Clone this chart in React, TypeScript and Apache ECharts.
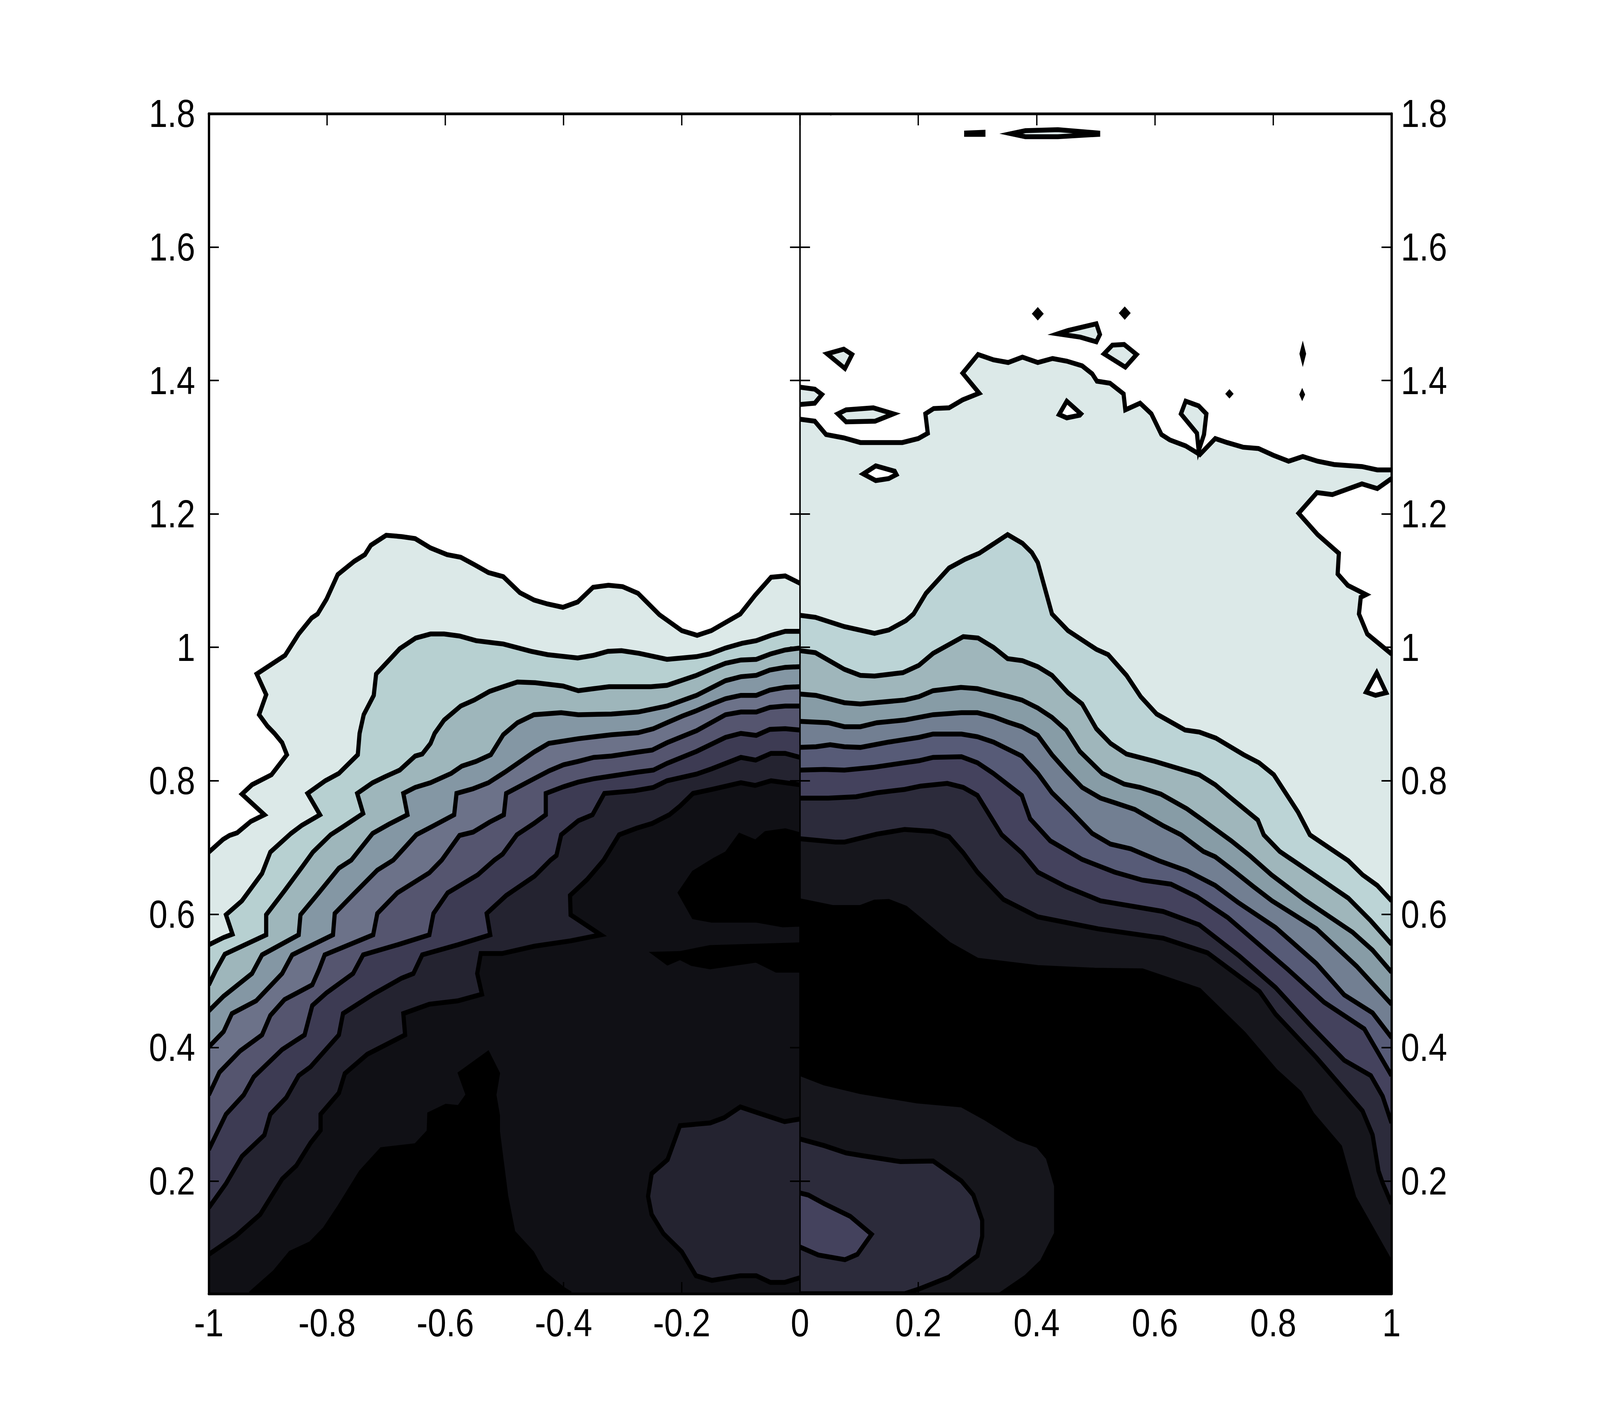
import React, { useEffect, useRef } from "react";
import * as echarts from "echarts";

type P = number[][];

const yMin = 0.031;
const yMax = 1.8;
const yTicks = [0.2, 0.4, 0.6, 0.8, 1, 1.2, 1.4, 1.6, 1.8];
const xTicksLeft = [-1, -0.8, -0.6, -0.4, -0.2, 0];
const xTicksRight = [0, 0.2, 0.4, 0.6, 0.8, 1];
const xLabelsRight = [0.2, 0.4, 0.6, 0.8, 1];

// ---------- left panel contours (x, y) ----------
const leftLevel1: P = [[-1,.693],[-.976,.712],[-.965,.718],[-.952,.722],[-.929,.739],[-.906,.749],[-.944,.780],[-.927,.794],[-.894,.809],[-.868,.839],[-.876,.857],[-.889,.871],[-.901,.882],[-.915,.899],[-.903,.929],[-.919,.960],[-.871,.988],[-.848,1.020],[-.826,1.044],[-.816,1.050],[-.801,1.072],[-.782,1.109],[-.754,1.129],[-.736,1.139],[-.726,1.153],[-.700,1.168],[-.674,1.166],[-.651,1.163],[-.625,1.149],[-.597,1.139],[-.574,1.135],[-.551,1.124],[-.527,1.112],[-.502,1.106],[-.474,1.082],[-.450,1.071],[-.427,1.065],[-.401,1.060],[-.376,1.068],[-.350,1.090],[-.324,1.093],[-.300,1.091],[-.274,1.081],[-.238,1.049],[-.200,1.025],[-.174,1.018],[-.150,1.025],[-.101,1.050],[-.076,1.078],[-.049,1.105],[-.025,1.107],[0,1.096]];
const leftLevel2: P = [[-1,.554],[-.975,.565],[-.960,.570],[-.971,.599],[-.944,.620],[-.910,.661],[-.896,.693],[-.861,.721],[-.843,.733],[-.812,.749],[-.833,.781],[-.803,.800],[-.780,.811],[-.748,.839],[-.745,.871],[-.738,.899],[-.721,.928],[-.717,.960],[-.677,.998],[-.650,1.014],[-.625,1.020],[-.602,1.020],[-.576,1.017],[-.548,1.010],[-.502,1.005],[-.455,.994],[-.427,.989],[-.376,.984],[-.349,.988],[-.325,.994],[-.302,.995],[-.272,.991],[-.225,.982],[-.175,.986],[-.153,.990],[-.126,.999],[-.098,1.006],[-.074,1.010],[-.049,1.018],[-.025,1.024],[0,1.024]];
const leftLevel3: P = [[-1,.494],[-.988,.516],[-.973,.540],[-.903,.569],[-.903,.599],[-.872,.635],[-.842,.671],[-.824,.693],[-.794,.719],[-.773,.731],[-.739,.751],[-.749,.781],[-.723,.797],[-.702,.806],[-.677,.816],[-.651,.837],[-.639,.840],[-.625,.856],[-.618,.871],[-.602,.891],[-.574,.912],[-.551,.921],[-.525,.934],[-.502,.941],[-.478,.948],[-.448,.947],[-.401,.942],[-.375,.935],[-.349,.938],[-.323,.941],[-.252,.941],[-.225,.943],[-.175,.958],[-.149,.968],[-.126,.976],[-.100,.981],[-.074,.982],[-.050,.990],[-.025,.996],[0,.999]];
const leftLevel4: P = [[-1,.455],[-.975,.477],[-.927,.511],[-.910,.539],[-.848,.569],[-.845,.599],[-.814,.632],[-.780,.669],[-.759,.681],[-.723,.721],[-.695,.735],[-.664,.749],[-.671,.781],[-.651,.790],[-.625,.797],[-.590,.811],[-.572,.822],[-.548,.829],[-.523,.839],[-.502,.869],[-.478,.887],[-.450,.899],[-.404,.902],[-.375,.899],[-.319,.900],[-.274,.903],[-.225,.912],[-.175,.928],[-.126,.950],[-.100,.956],[-.074,.958],[-.051,.966],[-.025,.970],[0,.971]];
const leftLevel5: P = [[-1,.401],[-.975,.424],[-.961,.451],[-.920,.470],[-.876,.511],[-.859,.539],[-.790,.569],[-.787,.601],[-.753,.632],[-.715,.666],[-.688,.681],[-.649,.719],[-.621,.732],[-.585,.749],[-.581,.781],[-.553,.788],[-.527,.797],[-.499,.813],[-.450,.843],[-.425,.856],[-.375,.863],[-.319,.869],[-.274,.872],[-.248,.878],[-.225,.887],[-.199,.897],[-.175,.905],[-.149,.915],[-.126,.923],[-.100,.928],[-.074,.928],[-.051,.936],[-.025,.940],[0,.941]];
const leftLevel6: P = [[-1,.329],[-.982,.363],[-.947,.395],[-.910,.419],[-.896,.448],[-.872,.472],[-.825,.494],[-.814,.516],[-.804,.539],[-.722,.569],[-.715,.601],[-.681,.632],[-.627,.662],[-.606,.681],[-.576,.718],[-.553,.723],[-.525,.738],[-.501,.749],[-.497,.781],[-.450,.803],[-.424,.815],[-.400,.824],[-.375,.829],[-.349,.835],[-.319,.837],[-.274,.843],[-.250,.846],[-.225,.857],[-.175,.875],[-.126,.899],[-.100,.903],[-.074,.903],[-.051,.910],[-.025,.912],[0,.912]];
const leftLevel7: P = [[-1,.247],[-.971,.300],[-.941,.329],[-.924,.356],[-.876,.397],[-.838,.419],[-.825,.463],[-.801,.482],[-.756,.511],[-.739,.539],[-.681,.554],[-.627,.569],[-.620,.601],[-.596,.632],[-.545,.659],[-.517,.681],[-.503,.690],[-.479,.719],[-.450,.736],[-.430,.749],[-.430,.781],[-.400,.791],[-.375,.798],[-.349,.803],[-.319,.807],[-.274,.813],[-.248,.816],[-.225,.826],[-.175,.844],[-.126,.865],[-.100,.871],[-.074,.868],[-.051,.877],[-.025,.878],[0,.876]];
const leftLevel8: P = [[-1,.160],[-.971,.196],[-.944,.237],[-.906,.269],[-.896,.300],[-.869,.325],[-.848,.358],[-.828,.371],[-.780,.419],[-.773,.451],[-.722,.480],[-.674,.504],[-.654,.511],[-.639,.539],[-.579,.554],[-.524,.569],[-.530,.601],[-.497,.628],[-.449,.657],[-.422,.681],[-.412,.688],[-.404,.719],[-.375,.740],[-.351,.749],[-.331,.781],[-.280,.785],[-.248,.790],[-.225,.800],[-.175,.810],[-.149,.818],[-.100,.835],[-.075,.831],[-.049,.841],[-.025,.841],[0,.835]];
const leftLevel9: P = [[-1,.090],[-.954,.118],[-.913,.150],[-.876,.203],[-.852,.223],[-.828,.257],[-.811,.276],[-.811,.300],[-.780,.332],[-.770,.361],[-.732,.390],[-.668,.419],[-.671,.451],[-.627,.465],[-.579,.470],[-.538,.480],[-.546,.511],[-.540,.541],[-.504,.541],[-.449,.552],[-.388,.560],[-.337,.569],[-.388,.599],[-.389,.628],[-.360,.652],[-.332,.681],[-.306,.719],[-.276,.729],[-.250,.736],[-.221,.749],[-.203,.762],[-.181,.781],[-.149,.787],[-.100,.797],[-.076,.793],[-.049,.800],[0,.794]];
const leftBlackMountain: P = [[-.930,.031],[-.889,.063],[-.862,.092],[-.828,.106],[-.804,.128],[-.780,.160],[-.743,.213],[-.708,.247],[-.650,.253],[-.628,.274],[-.627,.300],[-.599,.312],[-.577,.310],[-.562,.329],[-.575,.361],[-.528,.391],[-.511,.361],[-.517,.329],[-.511,.298],[-.511,.274],[-.497,.177],[-.485,.123],[-.453,.092],[-.435,.063],[-.401,.038],[-.388,.031]];
const leftBlackCore: P = [[0,.719],[-.025,.725],[-.058,.721],[-.075,.708],[-.102,.718],[-.124,.691],[-.145,.681],[-.180,.662],[-.203,.632],[-.180,.596],[-.149,.591],[-.074,.591],[-.029,.584],[0,.585]];
const leftBlackBand: P = [[-.244,.540],[-.203,.541],[-.152,.550],[-.074,.552],[0,.554],[0,.516],[-.040,.516],[-.074,.531],[-.152,.521],[-.183,.526],[-.203,.535],[-.224,.527]];
const leftIsland: P = [[0,.293],[-.026,.289],[-.074,.303],[-.101,.311],[-.128,.295],[-.152,.287],[-.203,.283],[-.224,.232],[-.251,.211],[-.257,.177],[-.251,.150],[-.231,.121],[-.200,.094],[-.176,.058],[-.149,.051],[-.101,.058],[-.074,.058],[-.050,.048],[-.026,.048],[0,.055]];

// ---------- right panel contours (x, y) ----------
const rightLevel1: P = [[0,1.342],[.025,1.339],[.044,1.319],[.074,1.314],[.102,1.307],[.173,1.307],[.200,1.313],[.216,1.321],[.212,1.350],[.226,1.358],[.252,1.359],[.275,1.371],[.303,1.381],[.275,1.411],[.301,1.439],[.327,1.431],[.352,1.427],[.376,1.435],[.402,1.427],[.427,1.433],[.451,1.429],[.477,1.422],[.494,1.410],[.502,1.399],[.524,1.396],[.547,1.380],[.550,1.356],[.575,1.366],[.594,1.350],[.611,1.319],[.625,1.311],[.652,1.302],[.676,1.289],[.702,1.313],[.722,1.307],[.749,1.300],[.775,1.298],[.800,1.288],[.826,1.279],[.850,1.286],[.875,1.279],[.903,1.274],[.950,1.271],[.976,1.266],[1,1.266]];
const rightWhitePocket: P = [[1,1.253],[.976,1.238],[.950,1.245],[.900,1.229],[.874,1.232],[.843,1.201],[.875,1.169],[.911,1.141],[.909,1.110],[.926,1.093],[.957,1.079],[.948,1.075],[.945,1.050],[.959,1.020],[1,.990]];
const rightLevel2: P = [[0,1.048],[.026,1.045],[.075,1.031],[.126,1.021],[.150,1.026],[.179,1.040],[.192,1.050],[.213,1.081],[.252,1.119],[.279,1.132],[.303,1.141],[.351,1.169],[.376,1.156],[.392,1.142],[.402,1.127],[.426,1.050],[.453,1.025],[.501,.997],[.521,.989],[.552,.958],[.576,.926],[.603,.900],[.651,.876],[.675,.873],[.703,.864],[.750,.839],[.776,.827],[.801,.809],[.842,.753],[.862,.719],[.927,.680],[.951,.659],[.976,.643],[1,.620]];
const rightLevel3: P = [[0,.995],[.026,.992],[.075,.967],[.102,.958],[.126,.957],[.174,.962],[.201,.973],[.225,.991],[.276,1.016],[.301,1.014],[.327,1.000],[.351,.983],[.376,.980],[.402,.971],[.426,.958],[.453,.932],[.477,.915],[.501,.878],[.525,.856],[.552,.840],[.600,.829],[.675,.809],[.702,.794],[.726,.776],[.774,.741],[.784,.719],[.811,.694],[.876,.655],[.927,.624],[.965,.590],[1,.555]];
const rightLevel4: P = [[0,.930],[.027,.928],[.075,.917],[.102,.915],[.177,.921],[.201,.926],[.225,.935],[.272,.940],[.300,.938],[.327,.932],[.354,.926],[.375,.921],[.402,.909],[.426,.895],[.450,.876],[.473,.844],[.511,.811],[.548,.795],[.575,.790],[.610,.780],[.654,.758],[.681,.741],[.729,.710],[.760,.688],[.797,.659],[.852,.622],[.934,.573],[.968,.546],[1,.513]];
const rightLevel5: P = [[0,.889],[.048,.887],[.075,.881],[.102,.881],[.130,.887],[.177,.891],[.225,.899],[.273,.902],[.300,.902],[.327,.896],[.351,.888],[.375,.881],[.402,.868],[.426,.839],[.450,.815],[.477,.790],[.508,.774],[.532,.767],[.566,.757],[.613,.733],[.644,.719],[.682,.694],[.702,.686],[.733,.665],[.767,.641],[.798,.620],[.873,.578],[.941,.522],[1,.465]];
const rightLevel6: P = [[0,.850],[.027,.851],[.051,.854],[.075,.851],[.102,.850],[.150,.858],[.201,.865],[.225,.870],[.273,.870],[.300,.866],[.327,.858],[.375,.837],[.402,.811],[.426,.782],[.456,.756],[.494,.721],[.525,.705],[.559,.698],[.607,.680],[.654,.665],[.702,.643],[.740,.618],[.804,.580],[.873,.526],[.920,.479],[.968,.452],[1,.415]];
const rightLevel7: P = [[0,.816],[.041,.817],[.075,.816],[.123,.820],[.177,.827],[.201,.830],[.225,.835],[.273,.836],[.300,.827],[.327,.811],[.375,.778],[.389,.743],[.423,.710],[.477,.682],[.532,.663],[.579,.651],[.627,.645],[.671,.626],[.723,.595],[.825,.517],[.886,.468],[.954,.428],[1,.358]];
const rightLevel8: P = [[0,.774],[.048,.774],[.095,.776],[.130,.782],[.177,.787],[.204,.792],[.249,.796],[.276,.790],[.300,.778],[.341,.719],[.375,.692],[.402,.663],[.450,.641],[.508,.620],[.614,.604],[.675,.584],[.743,.537],[.804,.490],[.862,.434],[.920,.381],[.965,.358],[.985,.327],[1,.287]];
const rightLevel9: P = [[0,.713],[.061,.708],[.075,.708],[.130,.720],[.177,.727],[.225,.724],[.252,.716],[.276,.692],[.300,.663],[.344,.622],[.402,.596],[.504,.578],[.614,.564],[.689,.542],[.777,.484],[.804,.450],[.873,.385],[.951,.305],[.968,.269],[.978,.215],[.985,.197],[1,.166]];
const rightBlack: P = [[0,.620],[.055,.610],[.102,.610],[.126,.618],[.150,.619],[.179,.609],[.201,.593],[.252,.555],[.300,.531],[.402,.520],[.498,.516],[.579,.515],[.675,.486],[.750,.421],[.804,.365],[.845,.332],[.866,.300],[.913,.251],[.937,.175],[1,.076],[1,.031],[.341,.031],[.382,.056],[.409,.079],[.433,.121],[.433,.193],[.419,.235],[.402,.253],[.368,.264],[.314,.294],[.273,.314],[.198,.320],[.102,.334],[.041,.347],[0,.361]];
const rightIslandOuter: P = [[0,.263],[.041,.253],[.078,.242],[.105,.238],[.170,.229],[.225,.230],[.273,.200],[.293,.179],[.308,.141],[.308,.117],[.300,.088],[.252,.056],[.201,.038],[.177,.031],[0,.031]];
const rightIslandInner: P = [[0,.182],[.014,.179],[.041,.166],[.085,.147],[.121,.120],[.097,.090],[.076,.082],[.031,.089],[0,.101]];

// small closed patches above the main contour
const patchEdge: P = [[0,1.390],[.025,1.387],[.037,1.379],[.025,1.366],[0,1.364]];
const patchB: P = [[.046,1.440],[.074,1.447],[.088,1.439],[.076,1.418]];
const patchC: P = [[.064,1.350],[.078,1.356],[.124,1.359],[.158,1.350],[.127,1.339],[.078,1.338]];
const patchF: P = [[.436,1.470],[.453,1.475],[.501,1.485],[.507,1.469],[.501,1.458],[.474,1.465]];
const patchG: P = [[.514,1.440],[.528,1.453],[.548,1.454],[.569,1.439],[.550,1.420]];
const patchH: P = [[.652,1.369],[.674,1.362],[.687,1.350],[.683,1.319],[.674,1.295],[.671,1.321],[.644,1.350]];
const patchTopLong: P = [[.357,1.770],[.381,1.7745],[.436,1.776],[.504,1.771],[.504,1.769],[.436,1.7655],[.381,1.7655]];
const patchTopShort: P = [[.281,1.771],[.31,1.772],[.31,1.769],[.281,1.769]];
const patchTopEdgeA: P = [[.04,1.803],[.052,1.801],[.066,1.803]];
const dotA: P = [[.402,1.505],[.407,1.500],[.402,1.495],[.397,1.500]];
const dotB: P = [[.549,1.506],[.554,1.501],[.549,1.496],[.544,1.501]];
const dotC: P = [[.850,1.447],[.852,1.440],[.850,1.433],[.848,1.440]];
const dotD: P = [[.726,1.382],[.728,1.380],[.726,1.378],[.724,1.380]];
const dotE: P = [[.849,1.381],[.850,1.379],[.849,1.377],[.848,1.379]];
const holeD: P = [[.128,1.272],[.160,1.264],[.163,1.259],[.150,1.253],[.128,1.250],[.107,1.260]];
const holeE: P = [[.451,1.369],[.475,1.350],[.473,1.348],[.451,1.344],[.438,1.349]];
const holeL: P = [[.975,.962],[.991,.932],[.973,.928],[.957,.933]];

const leftColors = ["#DCE9E8","#B7D0D1","#9EB6BB","#8497A4","#6C7289","#55556F","#3D3B53","#242330","#101015"];
const rightColors = ["#DCE9E8","#BCD4D6","#9FB6BB","#879CA6","#727F92","#575B77","#44425D","#2C2B3B","#16161C"];

type Shape = { pts: P; fill: string; mode: "base" | "open" | "closed" };

const leftLevels = [leftLevel1,leftLevel2,leftLevel3,leftLevel4,leftLevel5,leftLevel6,leftLevel7,leftLevel8,leftLevel9];
const rightLevels = [rightLevel1,rightLevel2,rightLevel3,rightLevel4,rightLevel5,rightLevel6,rightLevel7,rightLevel8,rightLevel9];

const leftShapes: Shape[] = [
  ...leftLevels.map((pts, i): Shape => ({ pts, fill: leftColors[i], mode: "base" })),
  { pts: leftBlackMountain, fill: "#000000", mode: "open" },
  { pts: leftBlackCore, fill: "#000000", mode: "open" },
  { pts: leftBlackBand, fill: "#000000", mode: "closed" },
  { pts: leftIsland, fill: leftColors[7], mode: "open" },
];

const rightShapes: Shape[] = [
  ...rightLevels.slice(0, 1).map((pts): Shape => ({ pts, fill: rightColors[0], mode: "base" })),
  { pts: rightWhitePocket, fill: "#FFFFFF", mode: "open" },
  ...[holeD, holeE, holeL].map((pts): Shape => ({ pts, fill: "#FFFFFF", mode: "closed" })),
  ...[patchEdge].map((pts): Shape => ({ pts, fill: rightColors[0], mode: "open" })),
  ...[patchB, patchC, patchF, patchG, patchH, patchTopLong, patchTopShort, dotA, dotB, dotC, dotD, dotE]
    .map((pts): Shape => ({ pts, fill: rightColors[0], mode: "closed" })),
  { pts: patchTopEdgeA, fill: "#FFFFFF", mode: "open" },
  ...rightLevels.slice(1).map((pts, i): Shape => ({ pts, fill: rightColors[i + 1], mode: "base" })),
  { pts: rightBlack, fill: "#000000", mode: "open" },
  { pts: rightIslandOuter, fill: rightColors[7], mode: "open" },
  { pts: rightIslandInner, fill: rightColors[6], mode: "open" },
];

const FONT = "Liberation Sans";
const LINE = 12.5;
const CHART_W = 4804;
const CHART_H = 3602;

function contourSeries(shapes: Shape[], axisIndex: number, corners: P) {
  return {
    type: "custom",
    xAxisIndex: axisIndex,
    yAxisIndex: axisIndex,
    coordinateSystem: "cartesian2d",
    clip: true,
    silent: true,
    z: 2,
    data: shapes.map((_, i) => [i, 1]),
    renderItem: (params: any, api: any) => {
      const s = shapes[params.dataIndex];
      const line = s.pts.map((p) => api.coord(p));
      const area = s.mode === "base" ? [...s.pts, ...corners].map((p) => api.coord(p)) : line;
      const children: any[] = [
        { type: "polygon", shape: { points: area }, style: { fill: s.fill, stroke: "none" } },
      ];
      children.push({
        type: s.mode === "closed" ? "polygon" : "polyline",
        shape: { points: line },
        style: { fill: "none", stroke: "#000000", lineWidth: LINE, lineJoin: "miter", miterLimit: 6, lineCap: "butt" },
      });
      return { type: "group", children };
    },
  };
}

function axisBase(width: number) {
  return {
    z: 10,
    axisLine: { show: true, onZero: false, lineStyle: { color: "#000", width } },
    splitLine: { show: false },
    minorTick: { show: false },
  };
}

function xAxisFor(grid: number, min: number, max: number, ticks: number[], labels: number[]) {
  const tick = { show: true, inside: true, length: 30, customValues: ticks, lineStyle: { color: "#000", width: 4 } };
  return [
    {
      ...axisBase(7), type: "value", gridIndex: grid, min, max, position: "bottom",
      axisTick: tick,
      axisLabel: { show: true, customValues: labels, margin: 25, fontFamily: FONT, fontSize: 100, color: "#000" },
    },
    {
      ...axisBase(7), type: "value", gridIndex: grid, min, max, position: "top",
      axisTick: tick, axisLabel: { show: false },
    },
  ];
}

function yAxisFor(grid: number, labelSide: "left" | "right") {
  const make = (side: "left" | "right") => {
    const outer = side === labelSide;
    return {
      ...axisBase(outer ? 7 : 4), type: "value", gridIndex: grid, min: yMin, max: yMax, position: side,
      axisTick: { show: true, inside: true, length: 30, customValues: yTicks, lineStyle: { color: "#000", width: 4 } },
      axisLabel: outer
        ? { show: true, customValues: yTicks, margin: side === "left" ? 41 : 28, fontFamily: FONT, fontSize: 100, color: "#000" }
        : { show: false },
    };
  };
  return [make("left"), make("right")];
}

export default function App() {
  const ref = useRef<HTMLDivElement>(null);
  useEffect(() => {
    document.body.style.margin = "0";
    // The browser caps its window below the nominal width: fit the full figure into what is there.
    const sx = Math.min(1, window.innerWidth / CHART_W);
    ref.current!.style.transform = `scaleX(${sx})`;
    ref.current!.style.transformOrigin = "0 0";
    const chart = echarts.init(ref.current!, undefined, { renderer: "svg", width: CHART_W, height: CHART_H });
    chart.setOption({
      animation: false,
      backgroundColor: "#FFFFFF",
      grid: [
        { left: 627, top: 291, width: 1775, height: 3021, containLabel: false },
        { left: 2402, top: 291, width: 1776, height: 3021, containLabel: false },
      ],
      xAxis: [...xAxisFor(0, -1, 0, xTicksLeft, xTicksLeft), ...xAxisFor(1, 0, 1, xTicksRight, xLabelsRight)],
      yAxis: [...yAxisFor(0, "left"), ...yAxisFor(1, "right")],
      series: [
        contourSeries(leftShapes, 0, [[0, yMin], [-1, yMin]]),
        contourSeries(rightShapes, 2, [[1, yMin], [0, yMin]]),
      ],
    });
    return () => chart.dispose();
  }, []);
  return (
    <div style={{ width: "100vw", height: CHART_H, overflow: "hidden", background: "#fff" }}>
      <div ref={ref} style={{ width: CHART_W, height: CHART_H, background: "#fff" }} />
    </div>
  );
}
